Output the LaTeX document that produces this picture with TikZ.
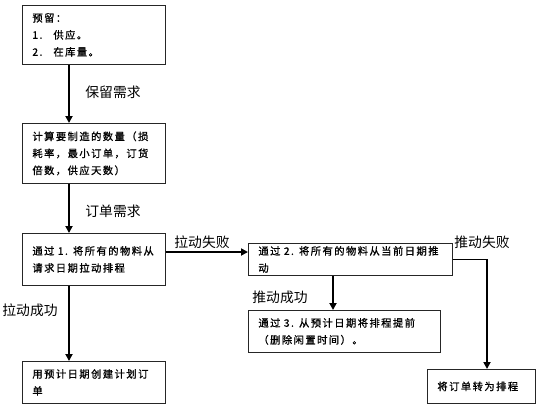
\documentclass[tikz,border=0pt]{standalone}
\usepackage{fontspec}
\newfontfamily\cjk{Noto Sans CJK SC}
\newfontfamily\cjkbox[LetterSpace=14,FakeBold=1]{Noto Sans CJK SC}
\usetikzlibrary{arrows.meta}
\begin{document}
\begin{tikzpicture}[x=1pt,y=-1pt,
  box/.style={draw=black!85, line width=0.8pt, anchor=north west, inner xsep=10pt, inner ysep=0pt,
    align=left, font=\cjkbox\fontsize{10.3}{17}\selectfont},
  lab/.style={font=\cjk\fontsize{13.8}{15}\selectfont},
  conn/.style={line width=1.8pt, -{Triangle[length=7pt,width=7pt]}}]
\path[use as bounding box, fill=white] (0,0) rectangle (540,408);
\node[box, text width=123pt, minimum height=59pt] (b1) at (22,5)
  {预留：\\\makebox[21pt][l]{1.}供应。\\\makebox[21pt][l]{2.}在库量。};
\node[box, text width=123pt, minimum height=60pt] (b2) at (22,123)
  {计算要制造的数量（损\\耗率，最小订单，订货\\倍数，供应天数）};
\node[box, text width=123pt, minimum height=52pt] (b3) at (22,233)
  {通过 1. 将所有的物料从\\请求日期拉动排程};
\node[box, text width=184pt, minimum height=32pt] (b4) at (248,243)
  {通过 2. 将所有的物料从当前日期推\\动};
\node[box, text width=172pt, minimum height=42pt] (b5) at (248,310)
  {通过 3. 从预计日期将排程提前\\（删除闲置时间）。};
\node[box, text width=123pt, minimum height=42pt] (b6) at (22,361)
  {用预计日期创建计划订\\单};
\node[box, text width=88pt, minimum height=34pt] (b7) at (427,369)
  {将订单转为排程};
\coordinate (cx) at (69,0);
\coordinate (qx) at (333,0);
\coordinate (px) at (487,0);
\coordinate (py) at (0,252);
\draw[conn] (b1.south -| cx) -- (b2.north -| cx);
\draw[conn] (b2.south -| cx) -- (b3.north -| cx);
\draw[conn] (b3.south -| cx) -- (b6.north -| cx);
\draw[conn] (b3.east |- py) -- (b4.west |- py);
\draw[conn] (b4.south -| qx) -- (b5.north -| qx);
\draw[conn] (b4.east) -| (b7.north -| px);
\node[lab] (l1) at (113,92) {保留需求};
\node[lab] (l2) at (113,211) {订单需求};
\node[lab] (l3) at (30,310) {拉动成功};
\node[lab] (l4) at (202,242) {拉动失败};
\node[lab] (l5) at (280,297) {推动成功};
\node[lab] (l6) at (482,242) {推动失败};
\end{tikzpicture}
\end{document}
